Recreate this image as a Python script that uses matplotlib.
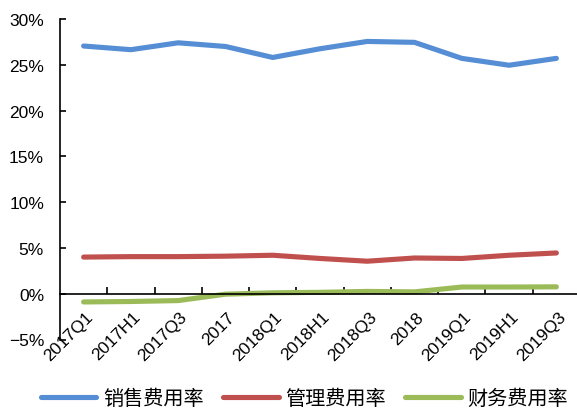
import matplotlib
matplotlib.use("Agg")
import matplotlib.pyplot as plt
import matplotlib.transforms as mtransforms
from matplotlib.ticker import FuncFormatter, FixedLocator, NullFormatter

plt.rcParams['font.family'] = ['Liberation Sans', 'Noto Sans CJK SC', 'DejaVu Sans']

categories = ["2017Q1", "2017H1", "2017Q3", "2017", "2018Q1", "2018H1",
              "2018Q3", "2018", "2019Q1", "2019H1", "2019Q3"]
sales = [27.05, 26.65, 27.4, 27.0, 25.8, 26.75, 27.55, 27.45, 25.7, 24.95, 25.7]
admin = [4.0, 4.05, 4.05, 4.1, 4.2, 3.85, 3.55, 3.9, 3.85, 4.2, 4.45]
finance = [-0.9, -0.85, -0.75, -0.05, 0.1, 0.15, 0.25, 0.2, 0.73, 0.73, 0.75]
series_names = ["销售费用率", "管理费用率", "财务费用率"]
colors = ["#558ED5", "#C0504D", "#9BBB59"]

W, H = 577, 410
fig = plt.figure(figsize=(W / 100, H / 100), dpi=100)
left_px, top_px, bottom_px = 60, 20, 340.5
ax = fig.add_axes([left_px / W, 1 - bottom_px / H, 520 / W, (bottom_px - top_px) / H])

x = list(range(len(categories)))
for vals, name, c in zip([sales, admin, finance], series_names, colors):
    ax.plot(x, vals, color=c, lw=3.7, label=name, solid_capstyle='round',
            solid_joinstyle='round')

ax.set_xlim(-0.5, len(categories) - 0.5)
ax.set_ylim(-5, 30)
ax.set_yticks(range(-5, 31, 5))
ax.yaxis.set_major_formatter(FuncFormatter(lambda v, p: f"{int(v)}%".replace("-", "\u2212")))

ax.spines['top'].set_visible(False)
ax.spines['right'].set_visible(False)
ax.spines['bottom'].set_position(('data', 0))
ax.spines['left'].set_linewidth(1.2)
ax.spines['bottom'].set_linewidth(1.2)

ax.set_xticks(x)
ax.set_xticklabels(categories, rotation=45, ha='right', va='top',
                   rotation_mode='anchor', fontsize=12.5)
ax.tick_params(axis='x', which='major', length=0, pad=0)
offset = mtransforms.ScaledTranslation(0.015, -0.15, fig.dpi_scale_trans)
for lab in ax.get_xticklabels():
    lab.set_transform(lab.get_transform() + offset)
ax.xaxis.set_minor_locator(FixedLocator([i + 0.5 for i in range(len(categories) - 1)]))
ax.xaxis.set_minor_formatter(NullFormatter())
ax.tick_params(axis='x', which='minor', direction='in', length=5, width=1.2)
ax.tick_params(axis='y', direction='in', length=4, width=1.2, labelsize=12.5, pad=11.5)

leg = fig.legend(loc='center', bbox_to_anchor=(0.528, 0.026), ncol=3, frameon=False,
                 prop={'family': ['Noto Sans CJK SC'], 'size': 14.5},
                 handlelength=2.75, columnspacing=0.95, handletextpad=0.35,
                 borderpad=0)

fig.savefig("out.png", dpi=100)
